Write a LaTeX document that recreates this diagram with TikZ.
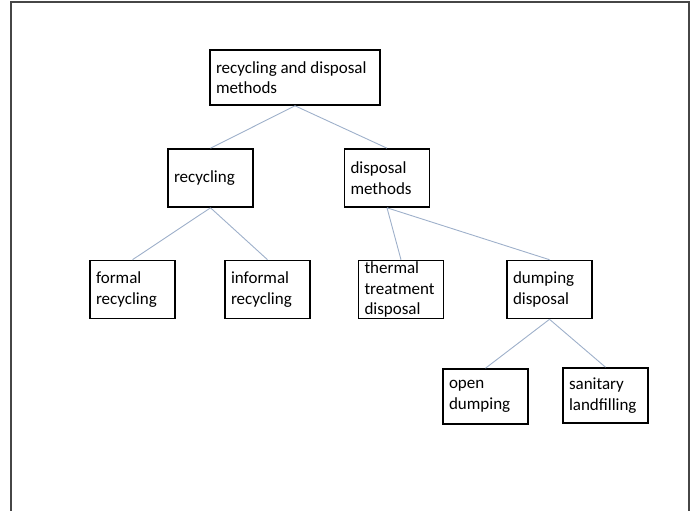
\documentclass[tikz,border=0pt]{standalone}
\usepackage{fontspec}
\setmainfont{Carlito}
\definecolor{linkblue}{RGB}{158,176,202}
\definecolor{framegray}{RGB}{70,70,70}

\begin{document}
\begin{tikzpicture}[%
        x = 1pt,
        y = -1pt,
        box/.style = {draw = black, line width = 1.6pt, inner xsep = 6pt,
            inner ysep = 1pt, align = flush left, text width = 73pt,
            minimum height = 58pt,
            font = \fontsize{17}{20.5}\selectfont},
        link/.style = {draw = linkblue, line width = 0.9pt},
        ]

\useasboundingbox (0,0) rectangle (691,511);

% frame round the figure
\draw[framegray, line width = 1.2pt] (11,515) -- (11,2) -- (689,2) -- (689,515);

\node (root) [box, text width = 158pt, minimum height = 55pt] at (295,77.5)
    {recycling and disposal\\methods};

\node (rec)  [box] at (210.5,178) {recycling};
\node (disp) [box] at (387,178) {disposal\\methods};

\begin{scope}[every node/.append style = {minimum height = 61pt}]
    \node (formal)   [box] at (132.5,289.5) {formal\\recycling};
    \node (informal) [box] at (267.5,289.5) {informal\\recycling};
    \node (thermal)  [box] at (401,289.5) {thermal\\treatment\\disposal};
    \node (dumping)  [box] at (549.5,289.5) {dumping\\disposal};
\end{scope}

\node (open)     [box, minimum height = 55pt] at (485.5,396.5) {open\\dumping};
\node (sanitary) [box, minimum height = 55pt] at (605.5,395.5) {sanitary\\landfilling};

\foreach \FROM/\TO in {root/rec, root/disp, rec/formal, rec/informal,
        disp/thermal, disp/dumping, dumping/open, dumping/sanitary}{%
    \draw[link] (\FROM.south) -- (\TO.north);
    }

\end{tikzpicture}
\end{document}
